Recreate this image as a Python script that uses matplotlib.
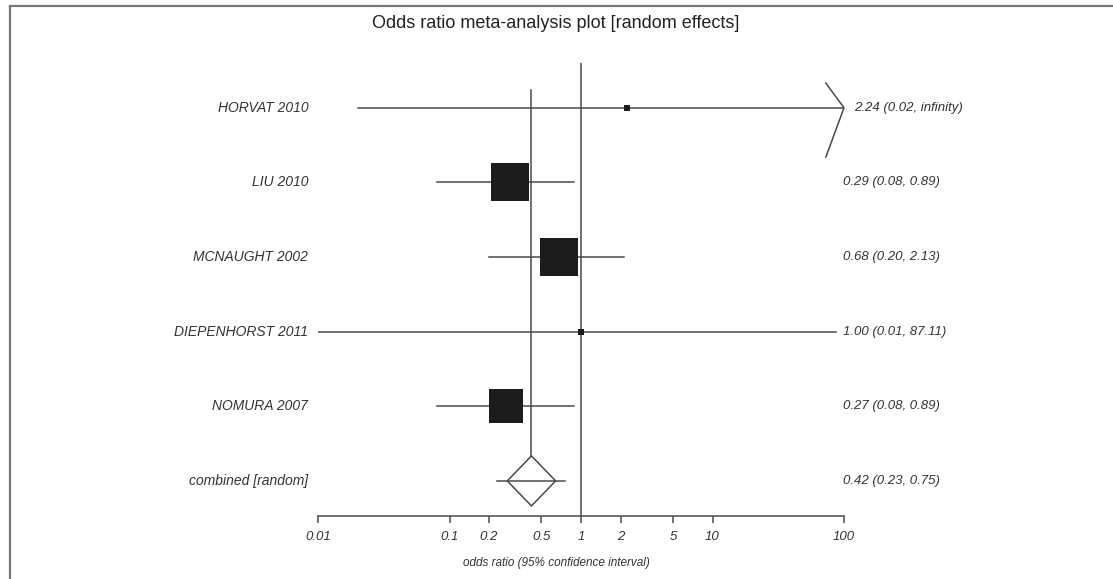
import numpy as np
import matplotlib.pyplot as plt
from matplotlib.lines import Line2D
from matplotlib.patches import Polygon
from matplotlib.ticker import FixedLocator, FixedFormatter, NullLocator

plt.rcParams['font.family'] = ['Liberation Sans', 'DejaVu Sans']

studies = ['HORVAT 2010', 'LIU 2010', 'MCNAUGHT 2002', 'DIEPENHORST 2011', 'NOMURA 2007']
odds = [2.24, 0.29, 0.68, 1.00, 0.27]
lower = [0.02, 0.08, 0.20, 0.01, 0.08]
upper = [np.inf, 0.89, 2.13, 87.11, 0.89]
weights = [1.2, 33.7, 35.5, 1.2, 28.4]  # percent
pooled_label = 'combined [random]'
pooled = [0.42, 0.23, 0.75]
tick_vals = [0.01, 0.1, 0.2, 0.5, 1, 2, 5, 10, 100]
tick_text = ['0.01', '0.1', '0.2', '0.5', '1', '2', '5', '10', '100']

W, H = 1113, 579
fig = plt.figure(figsize=(W / 100, H / 100), dpi=100)
ax = fig.add_axes([318 / W, 1 - 516 / H, 526 / W, (516 - 63) / H])
ax.set_xscale('log')
ax.set_xlim(0.01, 100)
ax.set_ylim(5.47, -0.6)

line_col = '#4a4a4a'
box_col = '#1c1c1c'
text_col = '#333333'

# reference line at 1
ax.axvline(1, color=line_col, lw=1.1, zorder=1)

n = len(studies)
for i in range(n):
    hi = min(upper[i], 100)
    ax.plot([lower[i], hi], [i, i], color=line_col, lw=1.1, zorder=2)
    if np.isinf(upper[i]):
        # open-ended interval -> chevron at axis end
        back = 100 / 10 ** 0.138
        ax.plot([back, 100, back], [i - 0.33, i, i + 0.66], color=line_col, lw=1.1,
                clip_on=False, zorder=2)
    ax.plot(odds[i], i, marker='s', color=box_col, markersize=np.sqrt(weights[i]) * 6.38 / 1.389,
            markeredgewidth=0, zorder=3)
    ax.annotate(studies[i], xy=(0, i), xycoords=('axes fraction', 'data'), xytext=(-7, 0),
                textcoords='offset points', ha='right', va='center', fontsize=10,
                style='italic', color=text_col)
    txt = '%.2f (%.2f, %s)' % (odds[i], lower[i],
                               'infinity' if np.isinf(upper[i]) else '%.2f' % upper[i])
    dx = 7 if np.isinf(upper[i]) else -1
    ax.annotate(txt, xy=(1, i), xycoords=('axes fraction', 'data'), xytext=(dx, 0),
                textcoords='offset points', ha='left', va='center', fontsize=9.5,
                style='italic', color=text_col)

# pooled estimate
py = n
est, plo, phi = pooled
half_w = 10 ** 0.184
half_h = 0.335
ax.plot([plo, phi], [py, py], color=line_col, lw=1.1, zorder=2)
diamond = Polygon([[est / half_w, py], [est, py - half_h], [est * half_w, py], [est, py + half_h]],
                  closed=True, fill=False, edgecolor=line_col, lw=1.1, zorder=3)
ax.add_patch(diamond)
ax.plot([est, est], [-0.24, py - half_h], color=line_col, lw=1.1, zorder=1)
ax.annotate(pooled_label, xy=(0, py), xycoords=('axes fraction', 'data'), xytext=(-7, 0),
            textcoords='offset points', ha='right', va='center', fontsize=10,
            style='italic', color=text_col)
ax.annotate('%.2f (%.2f, %.2f)' % (est, plo, phi), xy=(1, py), xycoords=('axes fraction', 'data'),
            xytext=(-1, 0), textcoords='offset points', ha='left', va='center', fontsize=9.5,
            style='italic', color=text_col)

# axes styling
for s in ['top', 'right', 'left']:
    ax.spines[s].set_visible(False)
ax.spines['bottom'].set_color(line_col)
ax.spines['bottom'].set_linewidth(1.1)
ax.yaxis.set_major_locator(NullLocator())
ax.xaxis.set_major_locator(FixedLocator(tick_vals))
ax.xaxis.set_major_formatter(FixedFormatter(tick_text))
ax.xaxis.set_minor_locator(NullLocator())
ax.tick_params(axis='x', direction='out', length=5, width=1.1, color=line_col, pad=6,
               labelsize=9.5, labelcolor=text_col)
for lab in ax.get_xticklabels():
    lab.set_style('italic')
ax.patch.set_alpha(0)

fig.text(0.5, 1 - 563 / H, 'odds ratio (95% confidence interval)', ha='center', va='center',
         fontsize=8.5, style='italic', color=text_col)
fig.text(556 / W, 1 - 23 / H, 'Odds ratio meta-analysis plot [random effects]', ha='center',
         va='center', fontsize=13, color='#222222')

# frame
fig.add_artist(Line2D([10 / W, 1], [1 - 5.5 / H, 1 - 5.5 / H], color='#777777', lw=1.6))
fig.add_artist(Line2D([10 / W, 10 / W], [0, 1 - 5.5 / H], color='#777777', lw=1.6))

fig.savefig('out.png', dpi=100)
